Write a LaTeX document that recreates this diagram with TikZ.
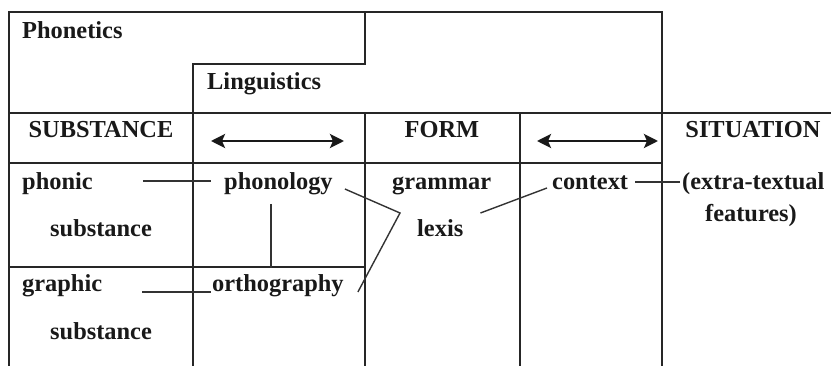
\documentclass[tikz,border=0pt]{standalone}
\usepackage{fontspec}
\setmainfont{Liberation Serif}
\usetikzlibrary{arrows.meta,calc}
\begin{document}
\begin{tikzpicture}[x=1pt,y=-1pt,
 lbl/.style={font=\fontsize{24.4}{28}\selectfont\bfseries, inner sep=0pt, text=black!90},
 gridline/.style={line width=1.8pt, draw=black!85},
 conn/.style={line width=1.4pt, draw=black!80},
 dbl/.style={line width=2.6pt, draw=black!90, {Stealth[length=14pt,width=14pt,inset=3pt]}-{Stealth[length=14pt,width=14pt,inset=3pt]}}]
\useasboundingbox (0,0) rectangle (831,366);
% table
\draw[gridline] (9,366) -- (9,12) -- (662,12) -- (662,366);
\draw[gridline] (365,12) -- (365,64) -- (193,64) -- (193,366);
\draw[gridline] (9,113) -- (831,113);
\draw[gridline] (9,163) -- (662,163);
\draw[gridline] (365,113) -- (365,366);
\draw[gridline] (520,113) -- (520,366);
\draw[gridline] (9,267) -- (365,267);
% labels
\node[lbl, anchor=base west] (phonetics) at (22,39) {Phonetics};
\node[lbl, anchor=base west] (ling) at (207,90) {Linguistics};
\node[lbl, anchor=base] (subst) at (101,138) {SUBSTANCE};
\node[lbl, anchor=base] (form) at (442,138) {FORM};
\node[lbl, anchor=base] (sit) at (753,138) {SITUATION};
\node[lbl, anchor=base west] (phonic) at (22,190) {phonic};
\node[lbl, anchor=base west] (subst1) at (50,237) {substance};
\node[lbl, anchor=base west] (graphic) at (22,292) {graphic};
\node[lbl, anchor=base west] (subst2) at (50,340) {substance};
\node[lbl, anchor=base west] (phonology) at (224,190) {phonology};
\node[lbl, anchor=base west] (ortho) at (212,292) {orthography};
\node[lbl, anchor=base west] (grammar) at (392,190) {grammar};
\node[lbl, anchor=base west] (lexis) at (417,237) {lexis};
\node[lbl, anchor=base west] (context) at (552,190) {context};
\node[lbl, anchor=base west] (extra) at (682,190) {(extra-textual};
\node[lbl, anchor=base] (feat) at (751,222) {features)};
% double arrows
\coordinate (a1) at (211,141);
\coordinate (a2) at (344,141);
\coordinate (b1) at (537,141);
\coordinate (b2) at (658,141);
\draw[dbl] (a1) -- (a2);
\draw[dbl] (b1) -- (b2);
% connectors
\draw[conn] ($(phonic.base east)+(50,-9)$) -- ($(phonology.base west)+(-13,-9)$);
\draw[conn] ($(phonology.base west)+(47,14)$) -- ($(ortho.base west)+(59,-24)$);
\draw[conn] ($(graphic.base east)+(40,0)$) -- ($(ortho.base west)+(-1,0)$);
\coordinate (lv) at ($(lexis.base west)+(-17,-24)$);
\draw[conn] ($(phonology.base east)+(12,-1)$) -- (lv) -- ($(ortho.base east)+(14,0)$);
\draw[conn] ($(lexis.base east)+(17,-24)$) -- ($(context.base west)+(-5,-2)$);
\draw[conn] ($(context.base east)+(7,-8)$) -- ($(extra.base west)+(-2,-8)$);
\end{tikzpicture}
\end{document}
